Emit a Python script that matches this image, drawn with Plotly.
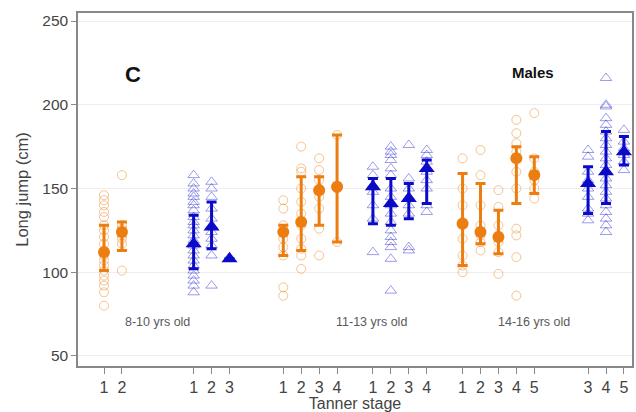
import plotly.graph_objects as go

# Tanner stage positions along the x axis: orange and blue series for three age bands
orange_pos = [0, 1, 10, 11, 12, 13, 20, 21, 22, 23, 24]
orange_stage = [1, 2, 1, 2, 3, 4, 1, 2, 3, 4, 5]
orange_mean = [112, 124, 124, 130, 149, 151, 129, 124, 121, 168, 158]
orange_hi = [128, 130, 128, 157, 157, 182, 159, 153, 137, 175, 169]
orange_lo = [101, 113, 110, 113, 128, 118, 104, 117, 111, 141, 147]
orange_points = [
    [146, 143, 140, 136, 133, 128, 125, 121, 117, 113, 110, 107, 104, 101, 98, 95, 92, 88, 80],
    [158, 128, 126, 124, 122, 120, 117, 101],
    [143, 138, 128, 124, 120, 115, 110, 91, 86],
    [175, 162, 160, 150, 142, 135, 128, 120, 114, 110, 102],
    [168, 161, 155, 150, 145, 138, 126, 110],
    [182, 150, 118],
    [168, 150, 140, 130, 120, 110, 104, 100],
    [173, 158, 140, 128, 122, 118, 113],
    [149, 139, 128, 122, 118, 112, 99],
    [191, 183, 177, 172, 168, 160, 150, 126, 122, 109, 86],
    [195, 168, 160, 155, 150, 144],
]

blue_pos = [5, 6, 7, 15, 16, 17, 18, 27, 28, 29]
blue_stage = [1, 2, 3, 1, 2, 3, 4, 3, 4, 5]
blue_mean = [117, 127, 108, 151, 141, 144, 162, 153, 160, 172]
blue_hi = [134, 142, 108, 156, 156, 153, 167, 163, 184, 181]
blue_lo = [102, 114, 108, 129, 128, 132, 141, 135, 141, 164]
blue_points = [
    [158, 153, 150, 147, 145, 142, 140, 137, 133, 130, 128, 125, 122, 119, 116, 113, 110, 107, 104, 101, 98, 95, 92, 88],
    [154, 150, 145, 138, 132, 128, 124, 120, 116, 110, 92],
    [108],
    [163, 158, 152, 148, 140, 132, 112],
    [175, 172, 170, 167, 162, 158, 150, 145, 140, 135, 130, 125, 121, 118, 115, 108, 89],
    [176, 156, 150, 145, 140, 135, 115, 113],
    [173, 170, 166, 160, 155, 150, 140, 136],
    [173, 169, 160, 155, 150, 145, 138, 135, 131],
    [216, 200, 199, 192, 188, 184, 180, 176, 172, 168, 164, 160, 156, 152, 148, 144, 140, 136, 132, 128, 124],
    [185, 178, 174, 170, 166, 161],
]

age_labels = ["8-10 yrs old", "11-13 yrs old", "14-16 yrs old"]
age_label_x = [3.0, 14.9, 24.0]

ORANGE = "#EC7D10"
BLUE = "#0A0AC8"
FONT = "Liberation Sans, Arial"

fig = go.Figure()

# individual observations (hollow, faint)
for x, pts in zip(orange_pos, orange_points):
    fig.add_trace(go.Scatter(
        x=[x] * len(pts), y=pts, mode="markers",
        marker=dict(symbol="circle-open", size=9, color=ORANGE, opacity=0.45,
                    line=dict(width=1)),
        showlegend=False, hoverinfo="y"))
for x, pts in zip(blue_pos, blue_points):
    if len(pts) < 2:
        continue
    fig.add_trace(go.Scatter(
        x=[x] * len(pts), y=pts, mode="markers",
        marker=dict(symbol="triangle-up-open", size=10, color=BLUE, opacity=0.4,
                    line=dict(width=1)),
        showlegend=False, hoverinfo="y"))

# group summaries with error bars
fig.add_trace(go.Scatter(
    x=orange_pos, y=orange_mean, mode="markers",
    marker=dict(symbol="circle", size=12, color=ORANGE),
    error_y=dict(type="data", symmetric=False,
                 array=[h - m for h, m in zip(orange_hi, orange_mean)],
                 arrayminus=[m - l for m, l in zip(orange_mean, orange_lo)],
                 color=ORANGE, thickness=3, width=5),
    showlegend=False))
fig.add_trace(go.Scatter(
    x=blue_pos, y=blue_mean, mode="markers",
    marker=dict(symbol="triangle-up", size=14, color=BLUE),
    error_y=dict(type="data", symmetric=False,
                 array=[h - m for h, m in zip(blue_hi, blue_mean)],
                 arrayminus=[m - l for m, l in zip(blue_mean, blue_lo)],
                 color=BLUE, thickness=3, width=5),
    showlegend=False))

tickvals = orange_pos + blue_pos
ticktext = [str(s) for s in orange_stage + blue_stage]

for lbl, x in zip(age_labels, age_label_x):
    fig.add_annotation(x=x, y=70, text=lbl, showarrow=False,
                       font=dict(family=FONT, size=12.5, color="#5a5a5a"))
fig.add_annotation(x=1.6, y=218, text="<b>C</b>", showarrow=False,
                   font=dict(family=FONT, size=22, color="#111111"))
fig.add_annotation(x=23.9, y=219.5, text="<b>Males</b>", showarrow=False,
                   font=dict(family=FONT, size=15, color="#111111"))

fig.update_layout(
    width=636, height=412,
    margin=dict(l=78, r=2, t=13, b=46),
    plot_bgcolor="white", paper_bgcolor="white",
    font=dict(family=FONT, color="#444444"),
    xaxis=dict(range=[-1.45, 29.45], tickvals=tickvals, ticktext=ticktext,
               showgrid=False, zeroline=False, showline=True, mirror=True,
               linecolor="#888888", linewidth=1.5, ticks="outside", ticklen=6,
               tickcolor="#888888", tickfont=dict(size=16, color="#444444"),
               title=dict(text="Tanner stage", font=dict(size=16, color="#444444"),
                          standoff=0)),
    yaxis=dict(range=[44, 254.8], tickvals=[50, 100, 150, 200, 250],
               showgrid=True, gridcolor="#EEEEEE", zeroline=False, showline=True,
               mirror=True, linecolor="#888888", linewidth=1.5, ticks="outside",
               ticklen=5, tickcolor="#888888", tickfont=dict(size=15.5, color="#444444"),
               title=dict(text="Long jump (cm)", font=dict(size=16.5, color="#444444"),
                          standoff=10)),
)

fig.write_html("out.html")
